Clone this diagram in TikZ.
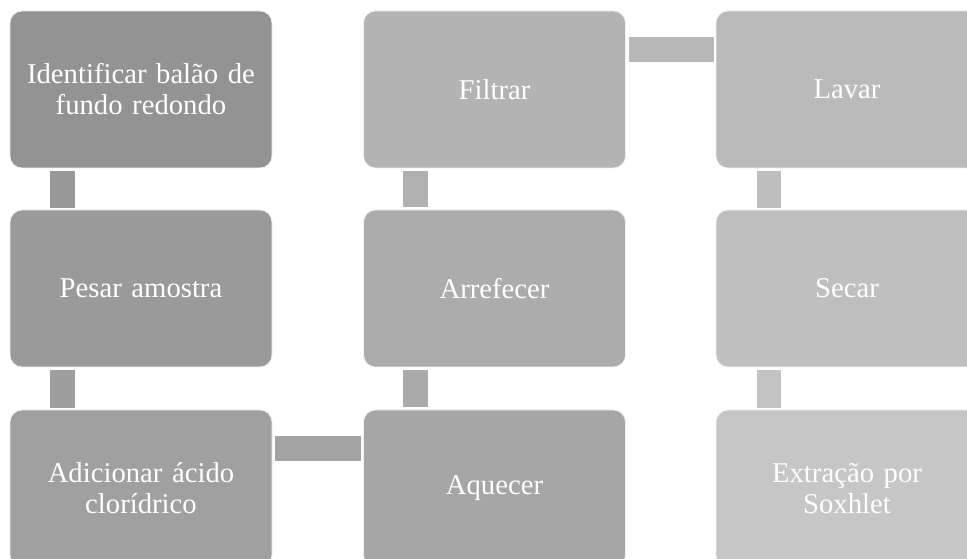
\documentclass[tikz,border=0pt]{standalone}
\usepackage{fontspec}
\setmainfont{Liberation Serif}
\usetikzlibrary{calc}
\definecolor{g1}{RGB}{147,147,147}
\definecolor{g2}{RGB}{154,154,154}
\definecolor{g3}{RGB}{160,160,160}
\definecolor{g4}{RGB}{166,166,166}
\definecolor{g5}{RGB}{172,172,172}
\definecolor{g6}{RGB}{179,179,179}
\definecolor{g7}{RGB}{186,186,186}
\definecolor{g8}{RGB}{191,191,191}
\definecolor{g9}{RGB}{198,198,198}
\definecolor{k1}{RGB}{152,152,152}
\definecolor{k2}{RGB}{158,158,158}
\definecolor{k3}{RGB}{164,164,164}
\definecolor{k4}{RGB}{170,170,170}
\definecolor{k5}{RGB}{176,176,176}
\definecolor{k6}{RGB}{184,184,184}
\definecolor{k7}{RGB}{190,190,190}
\definecolor{k8}{RGB}{195,195,195}
\tikzset{
  stepbox/.style={draw=white!90!gray, line width=0.7pt, rounded corners=12pt,
    minimum width=262pt, minimum height=157pt, inner sep=0pt,
    text width=258pt, align=center, text=white,
    font=\fontsize{28.7}{31}\selectfont},
}
\begin{document}
\begin{tikzpicture}[x=1pt,y=1pt]
\useasboundingbox (0,0) rectangle (967,559);
\clip (0,0) rectangle (967,559);
\node[stepbox, fill=g1] (b1) at (141,469.5) {Identificar balão de\\fundo redondo};
\node[stepbox, fill=g2] (b2) at (141,270.5) {Pesar amostra};
\node[stepbox, fill=g3] (b3) at (141,70.5) {Adicionar ácido\\clorídrico};
\node[stepbox, fill=g4] (b4) at (494.5,70.5) {Aquecer};
\node[stepbox, fill=g5] (b5) at (494.5,270.5) {Arrefecer};
\node[stepbox, fill=g6] (b6) at (494.5,469.5) {Filtrar};
\node[stepbox, fill=g7] (b7) at (847,469.5) {Lavar};
\node[stepbox, fill=g8] (b8) at (847,270.5) {Secar};
\node[stepbox, fill=g9] (b9) at (847,70.5) {Extração por\\Soxhlet};
% connectors
\fill[k1] ($(b1.south west)+(40,-3)$) rectangle ($(b2.north west)+(65,2)$);
\fill[k2] ($(b2.south west)+(40,-3)$) rectangle ($(b3.north west)+(65,2)$);
\fill[k3] ($(b3.north east)+(3,-26)$) rectangle ($(b4.north west)+(-2,-51)$);
\fill[k4] ($(b4.north west)+(40,3)$) rectangle ($(b5.south west)+(65,-3)$);
\fill[k5] ($(b5.north west)+(40,3)$) rectangle ($(b6.south west)+(65,-3)$);
\fill[k6] ($(b6.north east)+(3,-26)$) rectangle ($(b7.north west)+(-2,-51)$);
\fill[k7] ($(b7.south west)+(41,-3)$) rectangle ($(b8.north west)+(65,2)$);
\fill[k8] ($(b8.south west)+(41,-3)$) rectangle ($(b9.north west)+(65,2)$);
\end{tikzpicture}
\end{document}
